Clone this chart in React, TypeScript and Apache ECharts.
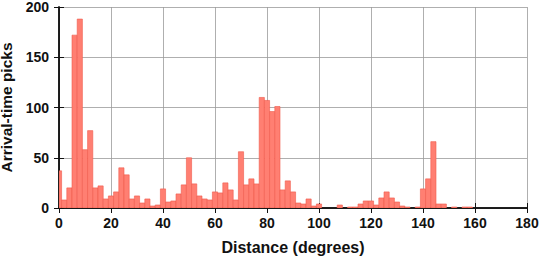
import React, { useEffect, useRef } from "react";
import * as echarts from "echarts";

const binCenters: number[] = [
  0, 2, 4, 6, 8, 10, 12, 14, 16, 18, 20, 22, 24, 26, 28, 30, 32, 34, 36, 38,
  40, 42, 44, 46, 48, 50, 52, 54, 56, 58, 60, 62, 64, 66, 68, 70, 72, 74, 76, 78,
  80, 82, 84, 86, 88, 90, 92, 94, 96, 98, 100, 102, 104, 106, 108, 110, 112, 114, 116, 118,
  120, 122, 124, 126, 128, 130, 132, 134, 136, 138, 140, 142, 144, 146, 148, 150, 152, 154, 156, 158,
];
const picks: number[] = [
  37, 8, 20, 172, 188, 58, 77, 20, 22, 9, 12, 16, 40, 33, 9, 12, 5, 9, 2, 3,
  19, 6, 7, 14, 23, 50, 24, 12, 9, 8, 16, 15, 25, 18, 8, 56, 23, 29, 24, 110,
  107, 96, 101, 18, 27, 16, 5, 4, 9, 2, 4, 0, 0, 0, 3, 0, 1, 1, 4, 7,
  7, 3, 10, 16, 10, 6, 2, 1, 0, 1, 19, 29, 66, 4, 4, 0, 1, 0, 1, 1,
];
const binWidth = 2;
const xTicks = { min: 0, max: 180, interval: 20 };
const yTicks = { min: 0, max: 200, interval: 50 };

export default function App() {
  const ref = useRef<HTMLDivElement>(null);
  useEffect(() => {
    document.body.style.margin = "0";
    if (!ref.current) return;
    const chart = echarts.init(ref.current, null, { renderer: "svg" });
    const font = "'Liberation Sans', Arial, Helvetica, sans-serif";
    const axisLine = { show: true, lineStyle: { color: "#111", width: 1.5 } };
    const axisTick = { show: true, inside: false, length: 5, lineStyle: { color: "#111", width: 1 } };
    const splitLine = { show: true, lineStyle: { color: "#9a9a9a", width: 0.8 } };
    const labelStyle = {
      color: "#111", fontFamily: font, fontWeight: "bold" as const, fontSize: 14, lineHeight: 12,
    };
    chart.setOption({
      animation: false,
      backgroundColor: "#fff",
      grid: { left: 59, right: 12, top: 7, bottom: 50, containLabel: false, outerBoundsMode: "none" },
      xAxis: [
        {
          type: "value", ...xTicks, position: "bottom",
          axisLine, axisTick, splitLine,
          axisLabel: { ...labelStyle, margin: 9 },
          name: "Distance (degrees)", nameLocation: "middle", nameGap: 31,
          nameTextStyle: { color: "#111", fontFamily: font, fontWeight: "bold", fontSize: 16 },
        },
        {
          type: "value", ...xTicks, position: "top",
          axisLine, axisTick, splitLine: { show: false }, axisLabel: { show: false },
        },
      ],
      yAxis: [
        {
          type: "value", ...yTicks, position: "left",
          axisLine, axisTick, splitLine,
          axisLabel: { ...labelStyle, margin: 10 },
          name: "Arrival-time picks", nameLocation: "middle", nameGap: 40,
          nameTextStyle: {
            color: "#111", fontFamily: font, fontWeight: "bold", fontSize: 15.5, lineHeight: 14,
          },
        },
        {
          type: "value", ...yTicks, position: "right",
          axisLine, axisTick, splitLine: { show: false }, axisLabel: { show: false },
        },
      ],
      series: [
        {
          type: "custom",
          xAxisIndex: 0,
          yAxisIndex: 0,
          clip: true,
          data: binCenters.map((c, i) => [c, picks[i]]),
          encode: { x: 0, y: 1 },
          renderItem: (params: any, api: any) => {
            const c = api.value(0);
            const v = api.value(1);
            if (!v) return null;
            const p0 = api.coord([c - binWidth / 2, v]);
            const p1 = api.coord([c + binWidth / 2, 0]);
            const rect = echarts.graphic.clipRectByRect(
              { x: p0[0], y: p0[1], width: p1[0] - p0[0], height: p1[1] - p0[1] },
              {
                x: params.coordSys.x,
                y: params.coordSys.y,
                width: params.coordSys.width,
                height: params.coordSys.height,
              }
            );
            if (!rect) return null;
            return {
              type: "rect",
              shape: rect,
              style: { fill: "#ff7f72", stroke: "#f05a4c", lineWidth: 0.6 },
            };
          },
        },
      ],
    });
    return () => chart.dispose();
  }, []);
  return <div ref={ref} style={{ width: 539, height: 258 }} />;
}
